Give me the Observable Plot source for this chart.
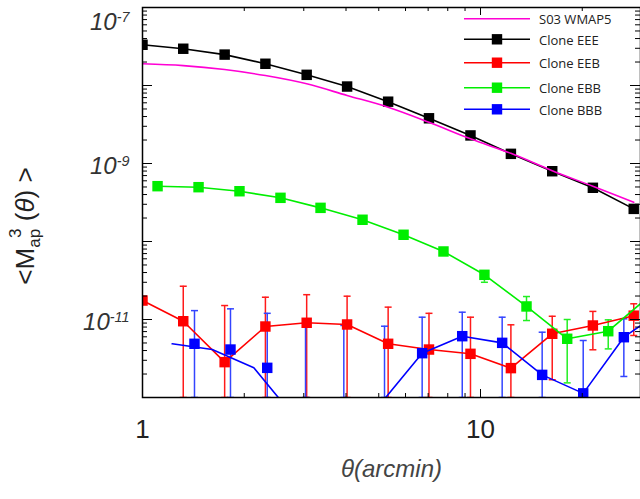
<!DOCTYPE html>
<html><head><meta charset="utf-8">
<script src="https://cdn.jsdelivr.net/npm/d3@7"></script>
<script src="https://cdn.jsdelivr.net/npm/@observablehq/plot@0.6"></script>
<style>body{margin:0;background:#fff} #chart{width:640px;height:499px}</style>
</head><body><div id="chart"></div>
<script>
// ---------- data ----------
const thetaEEE = [1.0, 1.32, 1.75, 2.31, 3.06, 4.03, 5.33, 7.04, 9.34, 12.3, 16.3, 21.5, 28.4];
const wmap5 = [1.90e-8, 1.80e-8, 1.60e-8, 1.34e-8, 1.05e-8, 7.45e-9, 5.27e-9, 3.38e-9, 2.07e-9, 1.35e-9, 8.1e-10, 5.1e-10, 3.19e-10];
const eee = [3.33e-8, 2.96e-8, 2.49e-8, 1.90e-8, 1.37e-8, 9.7e-9, 6.2e-9, 3.8e-9, 2.29e-9, 1.33e-9, 7.96e-10, 4.88e-10, 2.62e-10];
const eeb = [1.75e-11, 9.5e-12, 2.84e-12, 8.13e-12, 9.08e-12, 8.63e-12, 4.88e-12, 4.12e-12, 3.63e-12, 2.38e-12, 6.56e-12, 8.38e-12, 1.12e-11];
const eebHi = [null, 2.67e-11, 1.51e-11, 1.93e-11, 2.08e-11, 1.99e-11, 1.44e-11, 1.20e-11, 1.07e-11, 8.55e-12, 1.10e-11, 1.27e-11, 1.59e-11];
const eebLo = [null, 1e-12, 1e-12, 1e-12, 1e-12, 1e-12, 1e-12, 1e-12, 1e-12, 1e-12, 1.69e-12, 4.09e-12, 6.24e-12];
const thetaEBB = [1.108, 1.465, 1.936, 2.56, 3.363, 4.477, 5.92, 7.77, 10.27, 13.68, 18.05, 23.87, 31.5];
const ebb = [5.12e-10, 4.97e-10, 4.41e-10, 3.63e-10, 2.70e-10, 1.90e-10, 1.22e-10, 7.45e-11, 3.74e-11, 1.47e-11, 5.66e-12, 7.08e-12, 1.97e-11];
const ebbHi = [null, null, null, null, null, null, null, null, 4.16e-11, 1.97e-11, 1.0e-11, 9.9e-12, null];
const ebbLo = [null, null, null, null, null, null, null, null, 3.0e-11, 9.7e-12, 1.54e-12, 4.2e-12, null];
const thetaBBB = [1.425, 1.821, 2.339, 3.036, 3.941, 5.20, 6.72, 8.83, 11.59, 15.22, 20.13, 26.55, 34.8];
const thetaBBBLine = [1.224, 1.608, 2.135, 2.836, 3.776, 5.025, 6.72, 8.83, 11.59, 15.22, 20.13, 26.55, 34.8];
const bbb = [4.88e-12, 4.12e-12, 2.40e-12, 5.4e-13, 5.0e-13, 8.0e-13, 3.70e-12, 6.11e-12, 5.02e-12, 1.95e-12, 1.13e-12, 5.93e-12, 1.34e-11];
const bbbHi = [1.30e-11, 1.37e-11, 1.20e-11, 8.97e-12, 8.38e-12, 8.2e-12, 1.07e-11, 1.24e-11, 1.07e-11, 6.87e-12, 5.38e-12, 1.02e-11, null];
const bbbLo = [1e-12, 1e-12, 1e-12, 1e-12, 1e-12, 1e-12, 1e-12, 1e-12, 1e-12, 1e-12, 1e-12, 1.86e-12, null];
const seriesNames = ["S03 WMAP5", "Clone EEE", "Clone EEB", "Clone EBB", "Clone BBB"];
const xDomain = [1, 29.74];
const yDomain = [1e-12, 1e-7];
const xLabelTicks = [1, 10];
const yLabelTicks = [1e-7, 1e-9, 1e-11];

// ---------- styling / layout ----------
const colors = {"S03 WMAP5": "#ff00d4", "Clone EEE": "#000000", "Clone EEB": "#ff0000", "Clone EBB": "#00ee00", "Clone BBB": "#0000ff"};
const barColors = {"Clone EEB": "#ff1a1a", "Clone EBB": "#22ee22", "Clone BBB": "#3344ff"};
const W = 640, H = 499, mL = 142, mR = 0, mT = 7, mB = 102;
const innerW = W - mL - mR, innerH = H - mT - mB;

const rows = (xs, ys, his, los) => xs.map((x, i) => ({x, y: ys[i], hi: his ? his[i] : null, lo: los ? los[i] : null}));
const rWmap = rows(thetaEEE, wmap5);
const rEEE = rows(thetaEEE, eee);
const rEEB = rows(thetaEEE, eeb, eebHi, eebLo);
const rEBB = rows(thetaEBB, ebb, ebbHi, ebbLo);
const rBBB = rows(thetaBBB, bbb, bbbHi, bbbLo);
const rBBBLine = rows(thetaBBBLine, bbb);

const yMajor = d3.range(-12, -6).map(e => +("1e" + e));
const yMinor = [];
for (let e = -12; e <= -8; e++) for (let k = 2; k <= 9; k++) yMinor.push(+(k + "e" + e));
const xMajor = [1, 10];
const xMinor = [2, 3, 4, 5, 6, 7, 8, 9, 20];

const cap = {draw(ctx) { ctx.moveTo(-3.5, 0); ctx.lineTo(3.5, 0); }};
const withErr = r => r.filter(d => d.hi != null);

function errMarks(data, name) {
  const c = barColors[name];
  const d = withErr(data);
  return [
    Plot.ruleX(d, {x: "x", y1: "lo", y2: "hi", stroke: c, strokeWidth: 1.5, clip: true}),
    Plot.dot(d, {x: "x", y: "hi", symbol: cap, r: 3, stroke: c, fill: "none", strokeWidth: 1.5, clip: true}),
    Plot.dot(d, {x: "x", y: "lo", symbol: cap, r: 3, stroke: c, fill: "none", strokeWidth: 1.5, clip: true})
  ];
}
function series(lineData, dotData, name) {
  return [
    Plot.line(lineData, {x: "x", y: "y", stroke: colors[name], strokeWidth: 1.6, clip: true}),
    Plot.dot(dotData, {x: "x", y: "y", symbol: "square", r: 5.9, fill: colors[name], stroke: "none", clip: true})
  ];
}

const chart = Plot.plot({
  width: W, height: H,
  marginLeft: mL, marginRight: mR, marginTop: mT, marginBottom: mB,
  style: {fontFamily: "'Liberation Sans', Arial, sans-serif", background: "#fff"},
  x: {type: "log", domain: xDomain, axis: null},
  y: {type: "log", domain: yDomain, axis: null},
  marks: [
    ...errMarks(rEEB, "Clone EEB"),
    ...errMarks(rEBB, "Clone EBB"),
    ...errMarks(rBBB, "Clone BBB"),
    ...series(rEEE, rEEE, "Clone EEE"),
    Plot.line(rWmap, {x: "x", y: "y", stroke: colors["S03 WMAP5"], strokeWidth: 1.6, curve: "catmull-rom", clip: true}),
    ...series(rEEB, rEEB, "Clone EEB"),
    ...series(rEBB, rEBB, "Clone EBB"),
    ...series(rBBBLine, rBBB, "Clone BBB"),
    // ticks (inward)
    Plot.ruleY(yMajor, {y: d => d, insetRight: innerW - 10, stroke: "#000"}),
    Plot.ruleY(yMajor, {y: d => d, insetLeft: innerW - 10, stroke: "#000"}),
    Plot.ruleY(yMinor, {y: d => d, insetRight: innerW - 5, stroke: "#000"}),
    Plot.ruleY(yMinor, {y: d => d, insetLeft: innerW - 5, stroke: "#000"}),
    Plot.ruleX(xMajor, {x: d => d, insetTop: innerH - 8, stroke: "#000"}),
    Plot.ruleX(xMajor, {x: d => d, insetBottom: innerH - 8, stroke: "#000"}),
    Plot.ruleX(xMinor, {x: d => d, insetTop: innerH - 4, stroke: "#000"}),
    Plot.ruleX(xMinor, {x: d => d, insetBottom: innerH - 4, stroke: "#000"}),
    Plot.frame({stroke: "#000", strokeWidth: 1.5}),
    // tick labels
    Plot.text(yLabelTicks.slice(0, 1), {y: d => d, text: d => "10^" + Math.round(Math.log10(d)), frameAnchor: "left", dx: -13, dy: 15, textAnchor: "end", fontSize: 24, fontStyle: "italic", fill: "#333"}),
    Plot.text(yLabelTicks.slice(1), {y: d => d, text: d => "10^" + Math.round(Math.log10(d)), frameAnchor: "left", dx: -13, dy: 3, textAnchor: "end", fontSize: 24, fontStyle: "italic", fill: "#333"}),
    Plot.text(xLabelTicks, {x: d => d, text: d => String(d), frameAnchor: "bottom", dy: 40, fontSize: 26, fill: "#222"}),
    Plot.text(["θ(arcmin)"], {text: d => d, frameAnchor: "bottom", dy: 79, fontSize: 24, fontStyle: "italic", fill: "#444"})
  ]
});
document.getElementById("chart").appendChild(chart);

const svg = d3.select(chart);
// superscripts for "10^-n"
svg.selectAll("text").each(function() {
  const m = /^10\^(-?\d+)$/.exec(this.textContent);
  if (!m) return;
  const t = d3.select(this);
  t.text("10");
  t.append("tspan").attr("dy", "-0.55em").attr("font-size", "0.6em").text(m[1]);
});

// y-axis title
const yt = svg.append("text").attr("transform", "translate(34,226) rotate(-90)")
  .attr("text-anchor", "middle").attr("font-size", 26).attr("fill", "#222")
  .attr("font-family", "'Liberation Sans', Arial, sans-serif");
yt.append("tspan").text("<M");
yt.append("tspan").attr("font-size", 17).attr("dy", 6).text("ap");
yt.append("tspan").attr("font-size", 17).attr("dx", -9).attr("dy", -19).text("3");
yt.append("tspan").attr("dy", 13).text(" (");
yt.append("tspan").attr("font-style", "italic").text("θ");
yt.append("tspan").text(") >");

// legend
const legendY = [18.7, 39.3, 62.7, 87.7, 109.3];
const lg = svg.append("g").attr("font-family", "'Open Sans', sans-serif").attr("font-size", 13).attr("text-anchor", "start");
seriesNames.forEach((name, i) => {
  const y = legendY[i];
  lg.append("line").attr("x1", 464).attr("x2", 530).attr("y1", y).attr("y2", y)
    .attr("stroke", colors[name]).attr("stroke-width", 1.6);
  if (i > 0) lg.append("rect").attr("x", 497 - 5.2).attr("y", y - 5.2).attr("width", 10.4).attr("height", 10.4).attr("fill", colors[name]);
  lg.append("text").attr("x", 539).attr("y", y + 2).attr("text-anchor", "start").attr("dominant-baseline", "middle").attr("fill", "#222").text(name);
});
</script>
</body></html>
